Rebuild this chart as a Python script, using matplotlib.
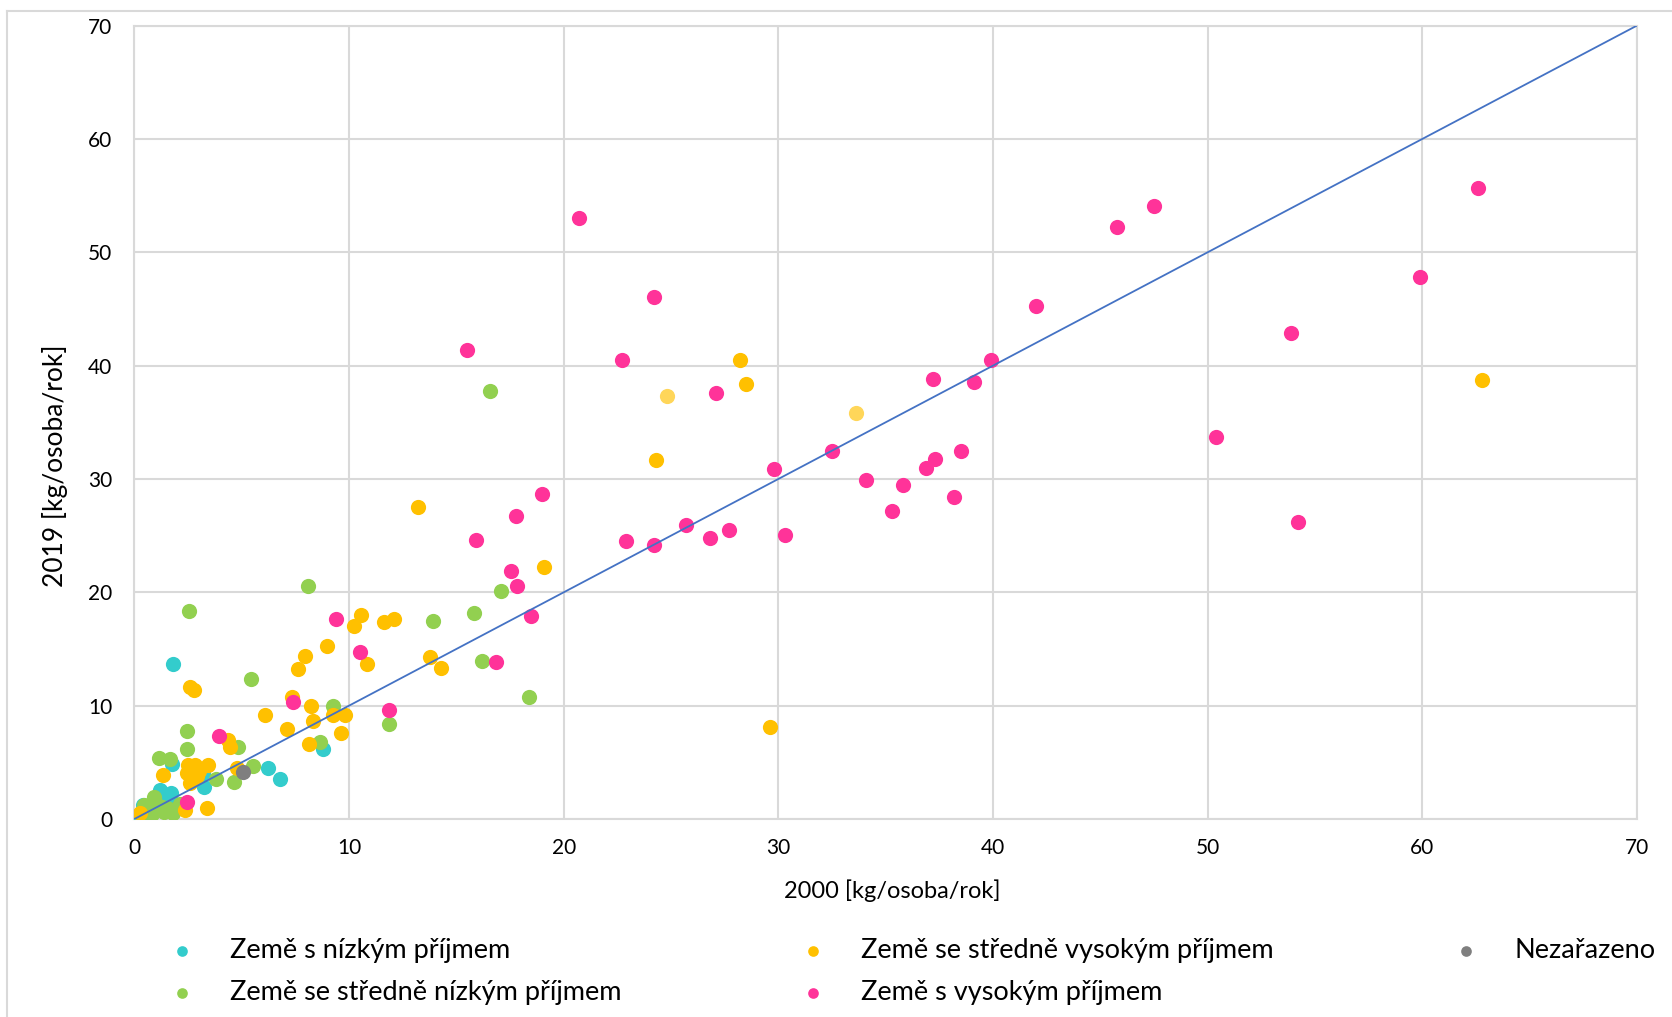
import matplotlib
matplotlib.use("Agg")
import matplotlib.pyplot as plt
from matplotlib.lines import Line2D

plt.rcParams["font.family"] = ["Lato", "DejaVu Sans"]

# 2000 vs 2019 values [kg/osoba/rok], per income group
low_x = [0.0, 0.4, 1.2, 1.7, 1.74, 1.8, 3.2, 3.25, 6.2, 6.8, 8.8, 0.2, 1.5]
low_y = [0.0, 1.2, 2.6, 2.3, 4.85, 13.7, 4.1, 2.85, 4.5, 3.5, 6.15, 0.3, 1.8]

lowmid_x = [16.55, 8.07, 2.56, 17.1, 15.82, 13.9, 16.2, 18.37, 11.88, 9.24,
            8.65, 5.42, 2.47, 2.47, 1.16, 1.66, 4.84, 4.64, 5.52, 3.78,
            0.9, 0.45, 0.96, 1.5, 1.97, 1.4, 0.65, 2.1, 1.3, 0.8, 1.8]
lowmid_y = [37.8, 20.56, 18.36, 20.1, 18.2, 17.5, 13.95, 10.74, 8.35, 10.0,
            6.8, 12.33, 7.77, 6.15, 5.36, 5.3, 6.35, 3.25, 4.68, 3.55,
            1.95, 1.24, 1.5, 0.94, 0.94, 0.6, 0.2, 1.3, 1.1, 0.4, 0.5]

upmid_x = [62.8, 28.2, 28.5, 24.3, 29.6, 13.2, 19.09, 12.1, 11.63, 10.56,
           10.23, 8.99, 7.95, 7.61, 10.85, 13.77, 14.27, 8.24, 8.34, 9.24,
           9.81, 9.63, 8.12, 2.59, 2.78, 7.33, 6.09, 7.13, 4.38, 4.45,
           1.32, 2.51, 2.82, 2.44, 2.67, 2.59, 3.44, 4.77, 3.37, 2.36,
           0.25, 2.9, 3.0]
upmid_y = [38.7, 40.5, 38.4, 31.7, 8.1, 27.5, 22.27, 17.65, 17.39, 17.98,
           17.06, 15.3, 14.4, 13.24, 13.68, 14.33, 13.36, 10.0, 8.65, 9.15,
           9.18, 7.56, 6.62, 11.68, 11.39, 10.8, 9.18, 7.92, 6.97, 6.38,
           3.88, 4.77, 4.77, 4.03, 3.44, 3.15, 4.77, 4.47, 1.0, 0.8,
           0.5, 3.8, 4.2]
# two upper-middle points drawn lighter in the source
upmid_light_x = [24.8, 33.6]
upmid_light_y = [37.3, 35.8]

high_x = [20.7, 24.2, 15.5, 22.7, 27.1, 19.0, 17.8, 15.9, 22.9, 24.2,
          17.56, 17.84, 18.47, 9.38, 10.51, 16.86, 11.88, 7.38, 3.94, 2.46,
          29.8, 30.3, 25.7, 26.8, 27.7, 32.5, 34.1, 35.3, 35.8, 36.9,
          37.3, 37.2, 38.5, 38.2, 39.1, 39.9, 42.0, 45.8, 47.5, 50.4,
          53.9, 54.2, 59.9, 62.6]
high_y = [53.0, 46.1, 41.4, 40.5, 37.6, 28.7, 26.7, 24.6, 24.5, 24.2,
          21.9, 20.56, 17.9, 17.65, 14.7, 13.89, 9.62, 10.3, 7.33, 1.53,
          30.9, 25.1, 25.9, 24.8, 25.5, 32.5, 29.9, 27.2, 29.5, 31.0,
          31.8, 38.8, 32.5, 28.4, 38.6, 40.5, 45.3, 52.2, 54.1, 33.7,
          42.9, 26.2, 47.8, 55.7]

other_x = [5.08]
other_y = [4.15]

line_x = [0, 70]
line_y = [0, 70]

labels = ["Země s nízkým příjmem", "Země se středně nízkým příjmem",
          "Země se středně vysokým příjmem", "Země s vysokým příjmem",
          "Nezařazeno"]

fig = plt.figure(figsize=(16.72, 10.17), dpi=100)
ax = fig.add_axes([0.0804, 0.1947, 0.8986, 0.7801])

size = 120
ax.scatter(low_x, low_y, s=size, color="#33CCCC", lw=0, label=labels[0], zorder=3)
ax.scatter(lowmid_x, lowmid_y, s=size, color="#92D050", lw=0, label=labels[1], zorder=3)
ax.scatter(upmid_x, upmid_y, s=size, color="#FFC000", lw=0, label=labels[2], zorder=3)
ax.scatter(upmid_light_x, upmid_light_y, s=size, color="#FFC000", alpha=0.65, lw=0, zorder=3)
ax.scatter(high_x, high_y, s=size, color="#FF3399", lw=0, label=labels[3], zorder=3)
ax.scatter(other_x, other_y, s=size, color="#7F7F7F", lw=0, label=labels[4], zorder=3)
ax.plot(line_x, line_y, color="#4472C4", lw=1.3, zorder=4)

ax.set_xlim(0, 70)
ax.set_ylim(0, 70)
ax.set_xticks(range(0, 71, 10))
ax.set_yticks(range(0, 71, 10))
ax.grid(True, color="#D9D9D9", lw=1.5)
ax.set_axisbelow(True)
for sp in ax.spines.values():
    sp.set_color("#D9D9D9")
    sp.set_linewidth(1.5)
ax.tick_params(length=0, labelsize=15, colors="black")
ax.tick_params(axis="y", pad=16)
ax.tick_params(axis="x", pad=14)

ax.set_xlabel("2000 [kg/osoba/rok]", fontsize=17)
ax.set_ylabel("2019 [kg/osoba/rok]", fontsize=19)
ax.xaxis.set_label_coords(0.5046, -0.076)
ax.yaxis.set_label_coords(-0.0445, 0.445)

handles, labs = ax.get_legend_handles_labels()
fig.legend(handles, labs, loc="upper left", bbox_to_anchor=(0.1005, 0.0775),
           ncol=3, frameon=False, fontsize=19.5, handlelength=1.0,
           handletextpad=1.27, columnspacing=6.6, labelspacing=0.62,
           borderpad=0, borderaxespad=0, scatterpoints=1, markerscale=0.7)

# chart area border (left and top only visible)
fig.add_artist(Line2D([7 / 1672, 7 / 1672], [0, 1 - 11 / 1017], color="#D9D9D9", lw=1.5))
fig.add_artist(Line2D([7 / 1672, 1], [1 - 11 / 1017, 1 - 11 / 1017], color="#D9D9D9", lw=1.5))

fig.savefig("out.png", dpi=100)
